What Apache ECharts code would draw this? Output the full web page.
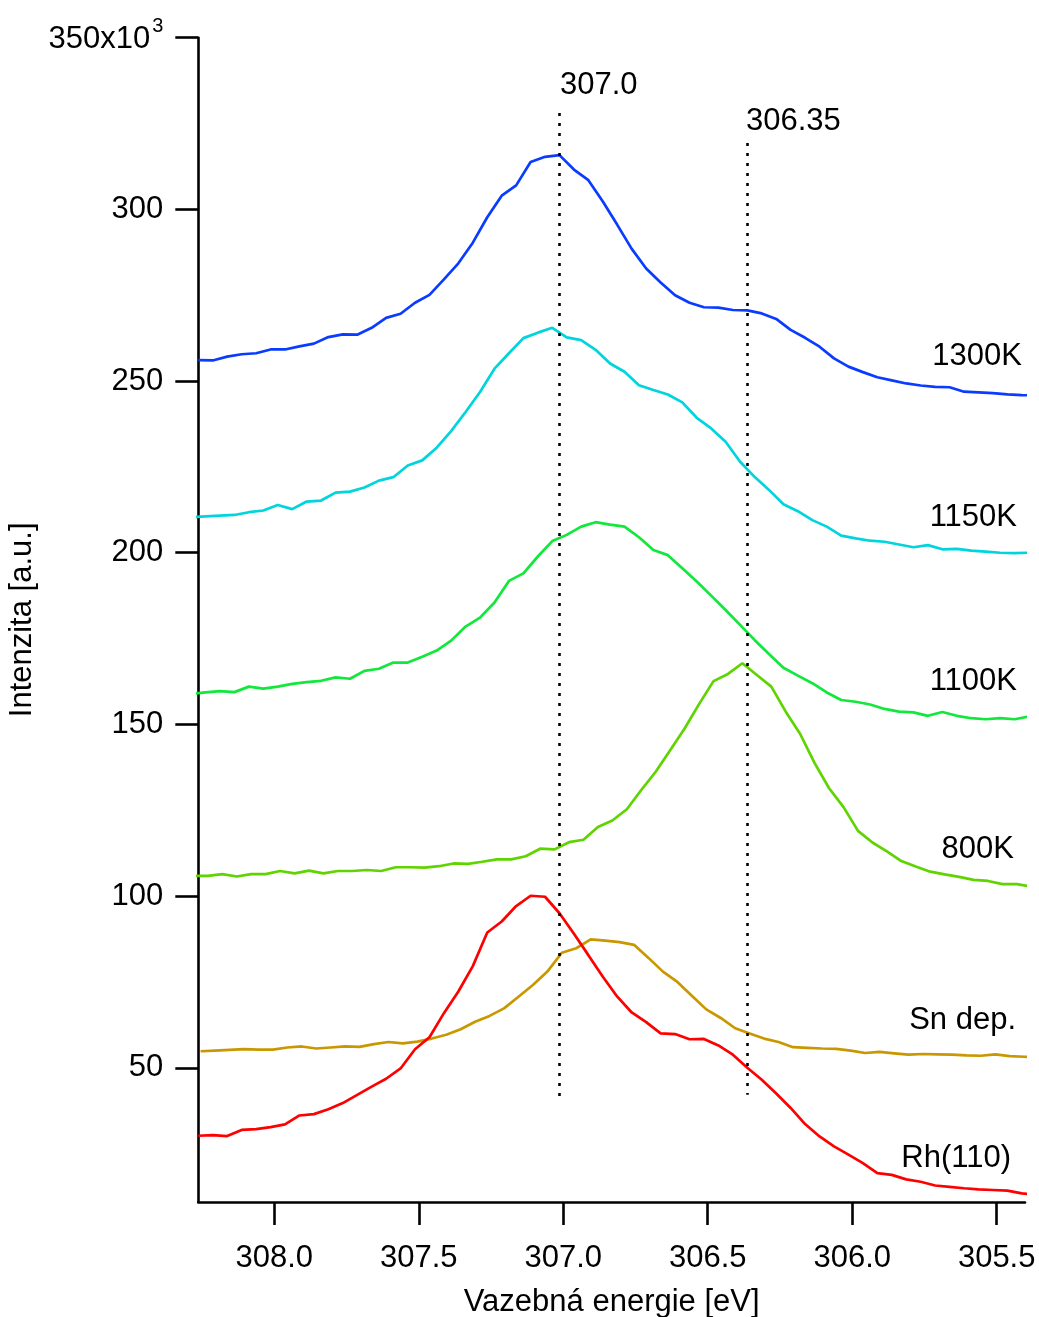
<!DOCTYPE html>
<html>
<head>
<meta charset="utf-8">
<script src="https://cdn.jsdelivr.net/npm/echarts@6/dist/echarts.min.js"></script>
<style>
  html, body { margin: 0; padding: 0; background: #fff; }
  #chart { width: 1039px; height: 1317px; }
</style>
</head>
<body>
<div id="chart"></div>
<script>
// spectra, step 0.05 eV going to lower binding energy
var step = 0.05;
var names = ['1300K', '1150K', '1100K', '800K', 'Sn dep.', 'Rh(110)'];
var xStart = [308.263, 308.288, 308.288, 308.28, 308.255, 308.263];

var k1300 = [256.1, 256.0, 257.1, 257.8, 258.1, 259.2, 259.2, 260.1, 260.9, 262.8, 263.6, 263.5, 265.5, 268.4, 269.6, 272.8, 275.1, 279.6, 284.3, 290.3,
  297.7, 304.0, 307.0, 313.8, 315.3, 315.8, 311.6, 308.5, 302.3, 295.5, 288.5, 282.8, 278.7, 275.0, 272.8, 271.5, 271.4, 270.7, 270.6, 269.7,
  268.1, 264.9, 262.6, 260.0, 256.6, 254.2, 252.6, 251.1, 250.2, 249.3, 248.7, 248.3, 248.2, 246.9, 246.7, 246.5, 246.1, 245.9, 245.8];
var k1150 = [210.4, 210.6, 210.8, 211.0, 211.8, 212.3, 213.9, 212.7, 214.9, 215.2, 217.5, 217.8, 219.0, 221.0, 222.0, 225.4, 226.9, 230.6, 235.4, 241.0,
  246.8, 253.6, 258.1, 262.5, 264.1, 265.5, 262.7, 261.9, 259.1, 255.1, 252.7, 248.8, 247.4, 246.1, 243.8, 239.3, 236.2, 232.3, 226.5, 222.1,
  218.3, 214.1, 212.1, 209.5, 207.6, 205.0, 204.2, 203.5, 203.2, 202.4, 201.6, 202.2, 201.0, 201.1, 200.6, 200.3, 200.0, 199.9, 200.0];
var k1100 = [158.9, 159.3, 159.7, 159.4, 161.0, 160.4, 161.0, 161.8, 162.3, 162.7, 163.7, 163.3, 165.6, 166.2, 168.0, 168.0, 169.7, 171.5, 174.4, 178.5,
  181.1, 185.5, 191.8, 194.0, 198.9, 203.4, 205.2, 207.6, 208.9, 208.2, 207.6, 204.5, 200.8, 199.3, 195.5, 191.6, 187.5, 183.3, 179.0, 174.6,
  170.5, 166.5, 164.2, 162.0, 159.3, 157.1, 156.6, 155.8, 154.5, 153.7, 153.5, 152.5, 153.6, 152.5, 151.8, 151.5, 151.8, 151.5, 152.3];
var k800 = [105.9, 105.9, 106.4, 105.7, 106.4, 106.4, 107.3, 106.6, 107.4, 106.6, 107.3, 107.3, 107.6, 107.3, 108.4, 108.4, 108.3, 108.7, 109.5, 109.4,
  110.0, 110.7, 110.7, 111.6, 113.8, 113.6, 115.7, 116.4, 120.1, 122.0, 125.3, 130.9, 136.2, 142.5, 148.8, 155.9, 162.6, 164.7, 167.8, 164.4,
  161.0, 153.7, 147.2, 138.7, 131.4, 125.9, 119.0, 115.6, 113.0, 110.2, 108.6, 107.1, 106.3, 105.6, 104.7, 104.4, 103.5, 103.5, 102.7];
var snDep = [54.8, 55.0, 55.2, 55.4, 55.3, 55.3, 55.9, 56.2, 55.6, 55.9, 56.2, 56.1, 56.9, 57.5, 57.1, 57.6, 58.5, 59.6, 61.2, 63.4,
  65.1, 67.3, 70.7, 74.1, 78.0, 83.5, 84.8, 87.4, 87.0, 86.6, 85.8, 82.0, 78.0, 75.0, 71.0, 67.0, 64.5, 61.5, 60.0, 58.5,
  57.5, 56.0, 55.8, 55.6, 55.5, 55.0, 54.3, 54.6, 54.2, 53.8, 54.0, 53.9, 53.8, 53.6, 53.5, 53.9, 53.4, 53.2, 53.1];
var rh110 = [30.2, 30.4, 30.1, 31.9, 32.1, 32.7, 33.5, 36.1, 36.5, 37.9, 39.7, 42.1, 44.5, 46.8, 49.8, 55.4, 58.9, 65.9, 72.2, 79.6,
  89.4, 92.6, 97.1, 100.1, 99.8, 95.0, 89.0, 82.8, 76.5, 70.7, 66.1, 63.3, 60.0, 59.8, 58.3, 58.4, 56.5, 53.8, 50.0, 46.5,
  42.5, 38.3, 33.6, 30.0, 27.1, 24.7, 22.2, 19.3, 18.8, 17.5, 16.8, 15.7, 15.3, 14.9, 14.6, 14.4, 14.2, 13.4, 13.0];

var xTicks = [308.0, 307.5, 307.0, 306.5, 306.0, 305.5];
var yTicks = [50, 100, 150, 200, 250, 300, 350];
// dotted reference lines: energy, bottom, top
var refE = [307.013, 306.363];
var refLow = [39.8, 42.1];
var refHigh = [328.1, 319.3];

var colors = ['#0a3cff', '#00d4dc', '#12e83c', '#5fd400', '#c99800', '#ff0000'];
var allVals = [k1300, k1150, k1100, k800, snDep, rh110];
var FONT = '"Liberation Sans", Arial, sans-serif';
var FS = 31;

var series = allVals.map(function (vals, s) {
  return {
    name: names[s],
    type: 'line',
    showSymbol: false,
    symbol: 'none',
    clip: true,
    data: vals.map(function (v, i) { return [xStart[s] - step * i, v]; }),
    lineStyle: { color: colors[s], width: 2.7 },
    itemStyle: { color: colors[s] },
    z: 3
  };
});

series.push({
  type: 'line',
  data: [],
  markLine: {
    silent: true,
    symbol: 'none',
    label: { show: false },
    lineStyle: { color: '#000', width: 2.6, type: [3, 7] },
    data: refE.map(function (e, k) {
      return [{ coord: [e, refHigh[k]] }, { coord: [e, refLow[k]] }];
    })
  }
});

function txt(text, x, y, align) {
  return {
    type: 'text',
    x: x, y: y,
    style: {
      text: text, fill: '#000',
      font: FS + 'px ' + FONT,
      align: align, textAlign: align,
      verticalAlign: 'middle', textVerticalAlign: 'middle'
    }
  };
}

var option = {
  animation: false,
  backgroundColor: '#fff',
  grid: { left: 198.3, right: 14, top: 37.7, bottom: 115, containLabel: false, outerBoundsMode: 'none' },
  xAxis: {
    type: 'value',
    inverse: true,
    min: 305.402,
    max: 308.263,
    name: 'Vazebná energie [eV]',
    nameLocation: 'middle',
    nameGap: 85,
    nameTextStyle: { color: '#000', fontSize: FS, fontFamily: FONT },
    axisLine: { show: true, onZero: false, lineStyle: { color: '#000', width: 2.6 } },
    axisTick: { show: true, customValues: xTicks, length: 23, lineStyle: { color: '#000', width: 2.6 } },
    axisLabel: {
      customValues: xTicks, margin: 41, color: '#000', fontSize: FS, fontFamily: FONT,
      formatter: function (v) { return v.toFixed(1); }
    },
    splitLine: { show: false }
  },
  yAxis: {
    type: 'value',
    min: 10.9,
    max: 350,
    name: 'Intenzita [a.u.]',
    nameLocation: 'middle',
    nameGap: 153,
    nameTextStyle: { color: '#000', fontSize: FS, fontFamily: FONT },
    axisLine: { show: true, onZero: false, lineStyle: { color: '#000', width: 2.6 } },
    axisTick: { show: true, customValues: yTicks, length: 23, lineStyle: { color: '#000', width: 2.6 } },
    axisLabel: {
      customValues: yTicks, margin: 35, color: '#000', fontSize: FS, fontFamily: FONT,
      formatter: function (v) { return v === 350 ? '{b|350x10}{s|3}' : String(v); },
      rich: {
        b: { fontSize: FS, fontFamily: FONT, color: '#000', padding: [4, 0, 0, 0] },
        s: { fontSize: 20, fontFamily: FONT, color: '#000', padding: [0, 0, 22, 2] }
      }
    },
    splitLine: { show: false }
  },
  graphic: [
    txt('1300K', 1022, 356, 'right'),
    txt('1150K', 1017, 517, 'right'),
    txt('1100K', 1017, 681, 'right'),
    txt('800K', 1014, 849, 'right'),
    txt('Sn dep.', 1016, 1020, 'right'),
    txt('Rh(110)', 1011, 1158, 'right'),
    txt('307.0', 560, 85, 'left'),
    txt('306.35', 746, 121, 'left')
  ],
  series: series
};

var chart = echarts.init(document.getElementById('chart'));
chart.setOption(option);
</script>
</body>
</html>
